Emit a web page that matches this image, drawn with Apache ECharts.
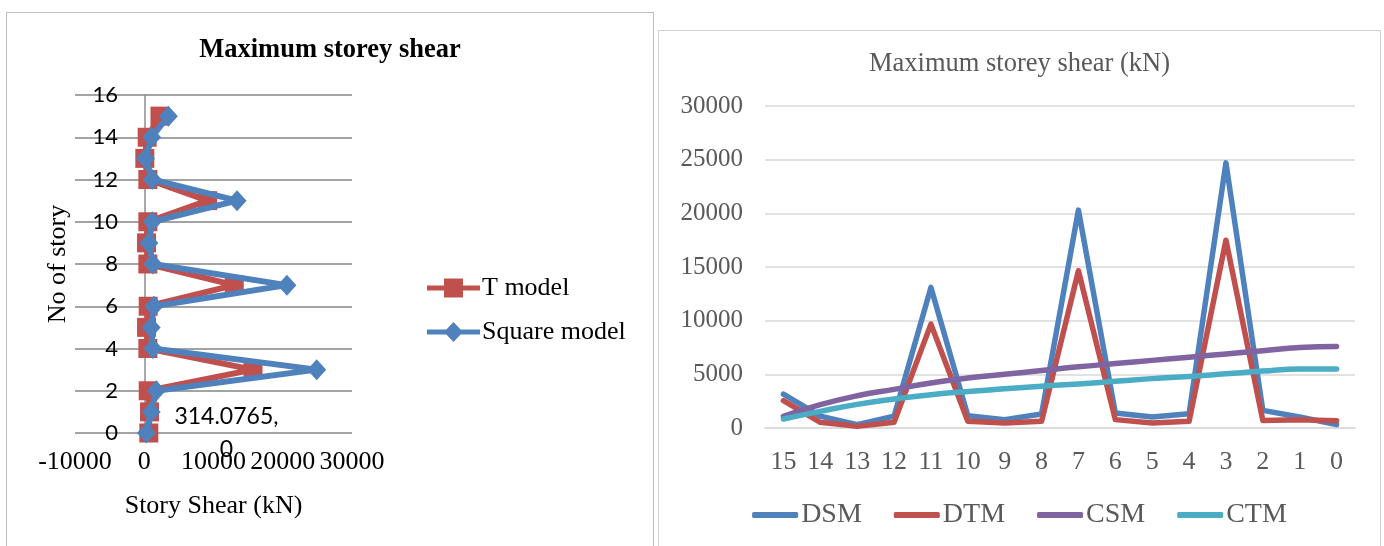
<!DOCTYPE html>
<html>
<head>
<meta charset="utf-8">
<script src="https://cdn.jsdelivr.net/npm/echarts@6/dist/echarts.min.js"></script>
<style>
  html, body { margin: 0; padding: 0; background: #fff; width: 1384px; height: 546px; overflow: hidden; }
  .chart { position: absolute; }
  .frame { position: absolute; box-sizing: border-box; pointer-events: none; }
  #left { left: 6px; top: 12px; width: 648px; height: 534px; }
  #right { left: 658px; top: 30px; width: 723px; height: 516px; }
  #leftFrame { left: 6px; top: 12px; width: 648px; height: 560px; border: 1.5px solid #bdbdbd; }
  #rightFrame { left: 658px; top: 30px; width: 723px; height: 540px; border: 1.5px solid #d2d2d2; }
</style>
</head>
<body>
<div id="left" class="chart"></div>
<div id="right" class="chart"></div>
<div id="leftFrame" class="frame"></div>
<div id="rightFrame" class="frame"></div>
<script>
// ---- Left chart: shear per storey (story number on the vertical axis) ----
const stories = [0, 1, 2, 3, 4, 5, 6, 7, 8, 9, 10, 11, 12, 13, 14, 15];
const squareModel = [314.0765, 1000, 1730, 24900, 1250, 1000, 1400, 20600, 1250, 670, 1150, 13400, 1150, 180, 1060, 3480];
const tModel = [660, 760, 570, 15700, 520, 330, 570, 13000, 520, 330, 520, 9150, 520, 80, 420, 2270];

// ---- Right chart: storey shear by story, top to bottom ----
const storyCategories = ['15', '14', '13', '12', '11', '10', '9', '8', '7', '6', '5', '4', '3', '2', '1', '0'];
const dsm = [3150, 1100, 300, 1100, 13100, 1150, 780, 1300, 20300, 1400, 1020, 1330, 24700, 1640, 1020, 314];
const dtm = [2540, 530, 150, 530, 9680, 620, 470, 620, 14650, 780, 470, 620, 17500, 710, 780, 680];
const csm = [1090, 2170, 3000, 3600, 4200, 4650, 5000, 5350, 5700, 6000, 6300, 6600, 6900, 7200, 7500, 7600];
const ctm = [840, 1550, 2200, 2700, 3100, 3400, 3650, 3900, 4100, 4350, 4600, 4800, 5050, 5300, 5500, 5500];

const SERIF = 'Liberation Serif';
const SANS = 'Lato';
const BLUE = '#4F81BD', RED = '#C0504D', PURPLE = '#8064A2', CYAN = '#4BACC6';

const plain = (v) => String(v);
const pairs = (xs) => xs.map((v, i) => [v, stories[i]]);

// Square model points; the bottom storey carries its value label
const squarePoints = pairs(squareModel).map((p, i) => i === 0 ? {
  value: p,
  label: {
    show: true,
    position: 'right',
    distance: 17,
    formatter: (d) => '{a|' + d.value[0] + ',}\n{a|' + d.value[1] + '}',
    rich: { a: { fontFamily: SANS, fontSize: 23, color: '#000', width: 107, align: 'center', lineHeight: 33 } }
  }
} : p);

// legend glyphs: a thick line with the series marker in the middle
const T_ICON = 'path://M0,7 L53,7 L53,12 L0,12 Z M17,0 L36,0 L36,19 L17,19 Z';
const SQ_ICON = 'path://M0,7.5 L53,7.5 L53,12.5 L0,12.5 Z M26.5,0 L36,10 L26.5,20 L17,10 Z';

const left = echarts.init(document.getElementById('left'), null, { renderer: 'canvas' });
left.setOption({
  animation: false,
  title: {
    text: 'Maximum storey shear',
    left: 'center',
    top: 20,
    textStyle: { fontFamily: SERIF, fontSize: 26.5, fontWeight: 'bold', color: '#000' }
  },
  legend: {
    orient: 'vertical',
    left: 416,
    top: 258,
    itemWidth: 53,
    itemHeight: 20,
    itemGap: 18,
    textStyle: { fontFamily: SERIF, fontSize: 26, color: '#000', padding: [0, 0, 0, -3] },
    data: [
      { name: 'T model', icon: T_ICON },
      { name: 'Square model', icon: SQ_ICON }
    ]
  },
  grid: { left: 69, top: 83, width: 277, height: 338, outerBoundsMode: 'none' },
  xAxis: {
    type: 'value',
    min: -10000,
    max: 30000,
    interval: 10000,
    name: 'Story Shear (kN)',
    nameLocation: 'middle',
    nameGap: 60,
    nameMoveOverlap: false,
    nameTextStyle: { fontFamily: SERIF, fontSize: 26, color: '#000' },
    axisLine: { show: false },
    axisTick: { show: false },
    axisLabel: { fontFamily: SERIF, fontSize: 26, color: '#000', margin: 16, formatter: plain, hideOverlap: false, showMinLabel: true, showMaxLabel: true },
    splitLine: { show: false }
  },
  yAxis: {
    type: 'value',
    min: 0,
    max: 16,
    interval: 2,
    name: 'No of story',
    nameLocation: 'middle',
    nameGap: 4,
    nameMoveOverlap: false,
    nameTextStyle: { fontFamily: SERIF, fontSize: 26, color: '#000' },
    axisLine: { show: true, onZero: true, lineStyle: { color: '#8c8c8c', width: 1.5 } },
    axisTick: { show: false },
    axisLabel: { fontFamily: SANS, fontSize: 22, color: '#000', margin: -43, formatter: plain },
    splitLine: { show: true, lineStyle: { color: '#a3a3a3', width: 2 } }
  },
  series: [
    {
      name: 'T model',
      type: 'line',
      z: 2,
      data: pairs(tModel),
      symbol: 'rect',
      symbolSize: 19,
      lineStyle: { color: RED, width: 6, join: 'round', cap: 'round' },
      itemStyle: { color: RED }
    },
    {
      name: 'Square model',
      type: 'line',
      z: 3,
      data: squarePoints,
      symbol: 'diamond',
      symbolSize: [19, 21],
      lineStyle: { color: BLUE, width: 6, join: 'round', cap: 'round' },
      itemStyle: { color: BLUE }
    }
  ]
});

const right = echarts.init(document.getElementById('right'), null, { renderer: 'canvas' });
const lineSeries = (name, values, color, smooth) => ({
  name,
  type: 'line',
  data: values,
  symbol: 'none',
  smooth: smooth,
  lineStyle: { color, width: 5.5, cap: 'round', join: 'round' },
  itemStyle: { color }
});
right.setOption({
  animation: false,
  title: {
    text: 'Maximum storey shear (kN)',
    left: 'center',
    top: 16,
    textStyle: { fontFamily: SERIF, fontSize: 26.5, fontWeight: 'normal', color: '#595959' }
  },
  legend: {
    left: 'center',
    top: 466,
    itemWidth: 46,
    itemHeight: 6,
    itemGap: 32,
    icon: 'roundRect',
    textStyle: { fontFamily: SERIF, fontSize: 28, color: '#595959', padding: [0, 0, 0, -2] },
    data: ['DSM', 'DTM', 'CSM', 'CTM']
  },
  grid: { left: 107, top: 76, width: 590, height: 322, outerBoundsMode: 'none' },
  xAxis: {
    type: 'category',
    data: storyCategories,
    boundaryGap: true,
    axisLine: { show: true, lineStyle: { color: '#d9d9d9', width: 1.5 } },
    axisTick: { show: false },
    axisLabel: { fontFamily: SERIF, fontSize: 26, color: '#595959', margin: 21, interval: 0 }
  },
  yAxis: {
    type: 'value',
    min: 0,
    max: 30000,
    interval: 5000,
    axisLine: { show: false },
    axisTick: { show: false },
    axisLabel: { fontFamily: SERIF, fontSize: 25, color: '#595959', margin: 22, formatter: plain },
    splitLine: { lineStyle: { color: '#d9d9d9', width: 1.5 } }
  },
  series: [
    lineSeries('DSM', dsm, BLUE, false),
    lineSeries('DTM', dtm, RED, false),
    lineSeries('CSM', csm, PURPLE, true),
    lineSeries('CTM', ctm, CYAN, true)
  ]
});
</script>
</body>
</html>
